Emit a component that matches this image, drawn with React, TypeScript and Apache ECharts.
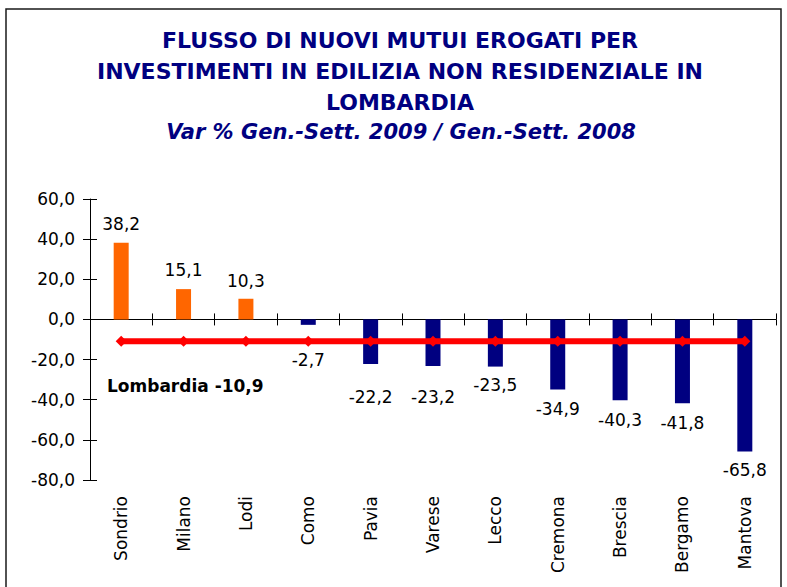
import React, { useEffect, useRef } from "react";
import * as echarts from "echarts";

const categories = ["Sondrio", "Milano", "Lodi", "Como", "Pavia", "Varese", "Lecco", "Cremona", "Brescia", "Bergamo", "Mantova"];
const variations = [38.2, 15.1, 10.3, -2.7, -22.2, -23.2, -23.5, -34.9, -40.3, -41.8, -65.8];
const lombardiaLine = [-10.9, -10.9, -10.9, -10.9, -10.9, -10.9, -10.9, -10.9, -10.9, -10.9, -10.9];
const lombardiaValue = -10.9;
const yTicks = { min: -80, max: 60, interval: 20 };

const titleLines = [
  "FLUSSO DI NUOVI MUTUI EROGATI PER",
  "INVESTIMENTI IN EDILIZIA NON RESIDENZIALE IN",
  "LOMBARDIA",
];
const subtitle = "Var % Gen.-Sett. 2009 / Gen.-Sett. 2008";

// label distances (style only)
const labelDistances = [10, 11, 9, 27, 25, 23, 10, 11, 11, 11, 10];

const fmt = (v: number) => v.toFixed(1).replace(".", ",");
const FONT = "'DejaVu Sans', Verdana, sans-serif";

export default function App() {
  const ref = useRef<HTMLDivElement>(null);
  useEffect(() => {
    if (!ref.current) return;
    const chart = echarts.init(ref.current, null, { renderer: "svg" });
    const catAxisBase = {
      type: "category" as const,
      data: categories,
      boundaryGap: true,
    };
    chart.setOption({
      animation: false,
      backgroundColor: "#ffffff",
      textStyle: { fontFamily: FONT },
      grid: { left: 90, right: 11, top: 199, bottom: 107, containLabel: false },
      xAxis: [
        {
          ...catAxisBase,
          position: "bottom",
          axisLine: { show: false, onZero: false },
          axisTick: { show: false },
          axisLabel: { rotate: 90, fontSize: 17, color: "#000", margin: 16, fontFamily: FONT, interval: 0 },
        },
        {
          ...catAxisBase,
          position: "bottom",
          axisLine: { show: true, onZero: true, onZeroAxisIndex: 0, lineStyle: { color: "#000", width: 1 } },
          axisTick: { show: true, length: 6, interval: 0, lineStyle: { color: "#000" } },
          axisLabel: { show: false },
        },
        {
          ...catAxisBase,
          position: "top",
          axisLine: { show: false, onZero: true, onZeroAxisIndex: 1 },
          axisTick: { show: true, length: 6, interval: 0, lineStyle: { color: "#000" } },
          axisLabel: { show: false },
        },
      ],
      yAxis: [
        {
          type: "value",
          min: yTicks.min,
          max: yTicks.max,
          interval: yTicks.interval,
          position: "left",
          splitLine: { show: false },
          axisLine: { show: true, lineStyle: { color: "#000" } },
          axisTick: { show: true, length: 7, lineStyle: { color: "#000" } },
          axisLabel: { formatter: (v: number) => fmt(v), fontSize: 17, color: "#000", margin: 15, fontFamily: FONT },
        },
        {
          type: "value",
          min: yTicks.min,
          max: yTicks.max,
          interval: yTicks.interval,
          position: "left",
          splitLine: { show: false },
          axisLine: { show: false },
          axisTick: { show: true, inside: true, length: 7, lineStyle: { color: "#000" } },
          axisLabel: { show: false },
        },
      ],
      series: [
        {
          type: "bar",
          xAxisIndex: 0,
          yAxisIndex: 0,
          barWidth: 15,
          data: variations.map((v, i) => ({
            value: v,
            itemStyle: { color: v >= 0 ? "#FF6600" : "#000080" },
            label: {
              show: true,
              position: v >= 0 ? "top" : "bottom",
              distance: labelDistances[i],
              formatter: () => fmt(v),
              fontSize: 17,
              color: "#000",
              fontFamily: FONT,
            },
          })),
          z: 2,
        },
        {
          type: "line",
          xAxisIndex: 0,
          yAxisIndex: 0,
          data: lombardiaLine,
          symbol: "diamond",
          symbolSize: 11,
          lineStyle: { color: "#FF0000", width: 6 },
          itemStyle: { color: "#FF0000" },
          z: 3,
        },
      ],
      graphic: [
        {
          type: "rect",
          shape: { x: 6, y: 9, width: 775, height: 620 },
          style: { fill: "none", stroke: "#1a1a1a", lineWidth: 1.5 },
          silent: true,
          z: -1,
        },
        ...titleLines.map((t, i) => ({
          type: "text",
          x: 400,
          y: 40 + i * 31,
          style: {
            text: t,
            fill: "#000080",
            font: `bold 22px ${FONT}`,
            textAlign: "center",
            textVerticalAlign: "middle",
          },
        })),
        {
          type: "text",
          x: 401,
          y: 132,
          style: {
            text: subtitle,
            fill: "#000080",
            font: `italic bold 21px ${FONT}`,
            textAlign: "center",
            textVerticalAlign: "middle",
          },
        },
        {
          type: "text",
          x: 107,
          y: 386,
          style: {
            text: "Lombardia " + fmt(lombardiaValue),
            fill: "#000",
            font: `bold 17px ${FONT}`,
            textAlign: "left",
            textVerticalAlign: "middle",
          },
        },
      ],
    });
    return () => chart.dispose();
  }, []);
  return (
    <div
      ref={ref}
      style={{ position: "absolute", left: 0, top: 0, width: 787, height: 587 }}
    />
  );
}
